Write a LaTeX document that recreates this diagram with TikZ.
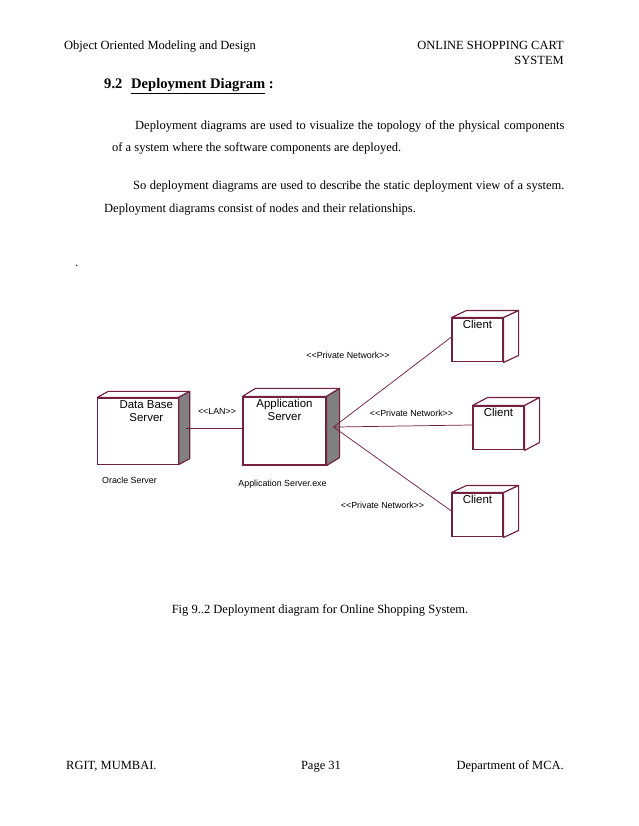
\documentclass[tikz,border=0pt]{standalone}
\usepackage{fontspec}
\setmainfont{Liberation Serif}
\newfontfamily\rosefont{Liberation Sans}[Ligatures=TeXOff]
\usetikzlibrary{calc}
\definecolor{RoseLine}{HTML}{74203F}
\definecolor{RoseSide}{HTML}{808080}

\begin{document}
\begin{tikzpicture}[
    x=0.96pt, y=-0.96pt,
    pagetext/.style={font=\fontsize{12}{14}\selectfont, inner sep=0pt, anchor=base west},
    devbox/.style={draw=RoseLine, fill=white, line width=1.1pt, inner sep=0pt},
    server/.style={devbox, minimum width=77pt, minimum height=63.5pt},
    client/.style={devbox, minimum width=49pt, minimum height=42pt},
    devname/.style={font=\rosefont\fontsize{11}{12.5}\selectfont, align=center,
      anchor=north, inner sep=2.5pt},
    note/.style={font=\rosefont\fontsize{8.5}{10}\selectfont, inner sep=0pt},
    link/.style={draw=RoseLine, line width=0.7pt},
    face/.style={draw=RoseLine, line width=1.1pt, line join=round}
  ]

  \useasboundingbox[fill=white] (0,0) rectangle (638,826);

  % Page header
  \node[pagetext] (hdl) at (64, 49.5) {Object Oriented Modeling and Design};
  \node[pagetext, anchor=base east] (hdr) at (564, 49.5) {ONLINE SHOPPING CART};
  \node[pagetext, anchor=base east] (hdr2) at (564, 65) {SYSTEM};

  % Section text
  \node[pagetext, font=\bfseries\fontsize{14}{16}\selectfont] (sec) at (104, 89)
    {9.2\hspace{0.6em}\underline{Deployment Diagram} :};
  \node[pagetext] (p1a) at (135, 130)
    {\makebox[412pt][s]{Deployment diagrams are used to visualize the topology of the physical components}};
  \node[pagetext] (p1b) at (112, 152) {of a system where the software components are deployed.};
  \node[pagetext] (p2a) at (133, 190)
    {\makebox[414pt][s]{So deployment diagrams are used to describe the static deployment view of a system.}};
  \node[pagetext] (p2b) at (104, 212) {Deployment diagrams consist of nodes and their relationships.};
  \node[pagetext] (dot) at (75, 266) {.};

  % Servers
  \node[server, label={[devname, xshift=8pt]north:{Data Base\\Server}}] (db) at (138, 431) {};
  \node[server, minimum width=79.7pt, minimum height=65.3pt,
        label={[devname]north:{Application\\Server}}] (app) at (284.5, 431) {};

  % Clients
  \node[client, label={[devname]north:Client}] (cA) at (477.5, 340) {};
  \node[client, label={[devname]north:Client}] (cB) at (498.5, 428) {};
  \node[client, label={[devname]north:Client}] (cC) at (477.5, 515) {};

  % Top and side faces
  \foreach \n/\dx/\dy/\tone in {db/11/6/RoseSide, app/13/8/RoseSide,
                                cA/15/7/white, cB/15/8/white, cC/15/7/white}{
    \draw[face, fill=white] (\n.north west) -- ++(\dx,-\dy)
      -- ($(\n.north east)+(\dx,-\dy)$) -- (\n.north east) -- cycle;
    \draw[face, fill=\tone] (\n.north east) -- ++(\dx,-\dy)
      -- ($(\n.south east)+(\dx,-\dy)$) -- (\n.south east) -- cycle;
  }

  % Connections
  \coordinate (hub) at ([xshift=6.7pt, yshift=3.8pt]app.east);
  \draw[link] ([xshift=6.7pt, yshift=2.9pt]db.east) -- ([yshift=2.9pt]app.west);
  \draw[link] (hub) -- ([yshift=2.9pt]cA.west);
  \draw[link] (hub) -- ([yshift=2.9pt]cB.west);
  \draw[link] (hub) -- ([yshift=3.8pt]cC.west);

  % Stereotypes and tags
  \node[note] (lan) at (217, 411) {<<LAN>>};
  \node[note] (pnA) at (348, 355) {<<Private Network>>};
  \node[note] (pnB) at (411.5, 413) {<<Private Network>>};
  \node[note] (pnC) at (382.5, 505) {<<Private Network>>};
  \node[note] (dbtag) at (129.5, 480) {Oracle Server};
  \node[note] (apptag) at (282.5, 484) {Application Server.exe};

  % Caption and footer
  \node[pagetext, anchor=base] (caption) at (320, 613)
    {Fig 9..2 Deployment diagram for Online Shopping System.};
  \node[pagetext] (footl) at (66, 769) {RGIT, MUMBAI.};
  \node[pagetext, anchor=base] (footc) at (321, 769) {Page 31};
  \node[pagetext, anchor=base east] (footr) at (564, 769) {Department of MCA.};

\end{tikzpicture}
\end{document}
